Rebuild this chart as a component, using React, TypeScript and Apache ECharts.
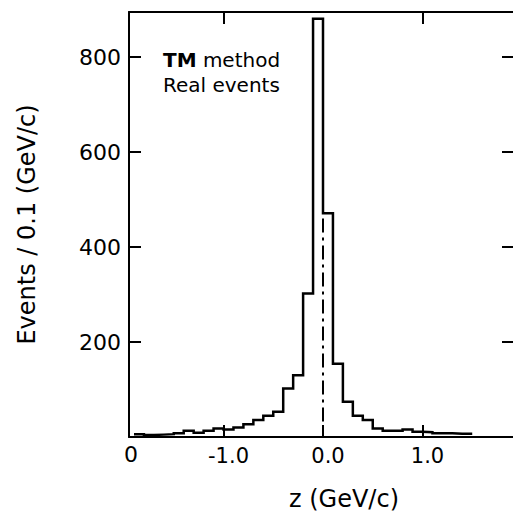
import React, { useEffect, useRef } from "react";
import * as echarts from "echarts";

// Histogram bins (left edge in GeV/c, bin width 0.1) and counts per bin
const binLeft = [
  -1.9, -1.8, -1.7, -1.6, -1.5, -1.4, -1.3, -1.2, -1.1, -1.0,
  -0.9, -0.8, -0.7, -0.6, -0.5, -0.4, -0.3, -0.2, -0.1, 0.0,
  0.1, 0.2, 0.3, 0.4, 0.5, 0.6, 0.7, 0.8, 0.9, 1.0,
  1.1, 1.2, 1.3, 1.4,
];
const counts = [
  6, 4, 5, 6, 8, 13, 9, 13, 18, 16,
  20, 27, 36, 45, 53, 102, 130, 302, 881, 471,
  154, 74, 45, 36, 18, 13, 13, 16, 11, 10,
  8, 8, 7, 7,
];
const binWidth = 0.1;

const xTicks = [-1.0, 0.0, 1.0];
const xTopTicks = [-1.0, 1.0];
const yTicks = [200, 400, 600, 800];
const centerLine = [
  [0, 460],
  [0, 0],
];
const insetLines = ["{b|TM} method", "Real events"];

const FONT = "DejaVu Sans";

export default function App() {
  const ref = useRef<HTMLDivElement>(null);

  useEffect(() => {
    document.body.style.margin = "0";
    if (!ref.current) return;
    const chart = echarts.init(ref.current, null, { renderer: "svg" });

    const stepData: number[][] = binLeft.map((x, i) => [x, counts[i]]);
    stepData.push([
      +(binLeft[binLeft.length - 1] + binWidth).toFixed(2),
      counts[counts.length - 1],
    ]);

    const axisLine = { show: true, onZero: false, lineStyle: { color: "#000", width: 2 } };
    const tickStyle = { color: "#000", width: 2 };

    chart.setOption({
      animation: false,
      backgroundColor: "#fff",
      textStyle: { fontFamily: FONT, color: "#000" },
      grid: {
        left: 129,
        width: 388,
        top: 12,
        height: 425,
        containLabel: false,
        outerBoundsMode: "none",
      },
      xAxis: [
        {
          type: "value",
          position: "bottom",
          min: -1.95,
          max: 1.95,
          axisLine,
          splitLine: { show: false },
          axisTick: {
            show: true,
            inside: true,
            length: 12,
            lineStyle: tickStyle,
            customValues: xTicks,
          },
          axisLabel: {
            show: true,
            customValues: xTicks,
            formatter: (v: number) => v.toFixed(1),
            fontSize: 21,
            fontFamily: FONT,
            color: "#000",
            margin: 8,
            padding: [0, 0, 0, 10],
          },
          name: "z (GeV/c)",
          nameLocation: "middle",
          nameGap: 50,
          nameTextStyle: {
            fontSize: 24,
            fontFamily: FONT,
            color: "#000",
            padding: [0, 0, 0, 42],
          },
        },
        {
          type: "value",
          position: "top",
          min: -1.95,
          max: 1.95,
          axisLine,
          splitLine: { show: false },
          axisTick: {
            show: true,
            inside: true,
            length: 12,
            lineStyle: tickStyle,
            customValues: xTopTicks,
          },
          axisLabel: { show: false },
        },
      ],
      yAxis: [
        {
          type: "value",
          position: "left",
          min: 0,
          max: 895,
          axisLine,
          splitLine: { show: false },
          axisTick: {
            show: true,
            inside: true,
            length: 12,
            lineStyle: tickStyle,
            customValues: yTicks,
          },
          axisLabel: {
            show: true,
            customValues: yTicks,
            fontSize: 22,
            fontFamily: FONT,
            color: "#000",
            margin: 8,
          },
          name: "Events / 0.1 (GeV/c)",
          nameLocation: "middle",
          nameGap: 90,
          nameTextStyle: { fontSize: 24, fontFamily: FONT, color: "#000" },
        },
        {
          type: "value",
          position: "right",
          min: 0,
          max: 895,
          axisLine,
          splitLine: { show: false },
          axisTick: {
            show: true,
            inside: true,
            length: 15,
            lineStyle: tickStyle,
            customValues: yTicks,
          },
          axisLabel: { show: false },
        },
      ],
      series: [
        {
          type: "line",
          xAxisIndex: 0,
          yAxisIndex: 0,
          data: stepData,
          step: "end",
          symbol: "none",
          lineStyle: { color: "#000", width: 2.5, join: "miter" },
          z: 3,
        },
        {
          type: "line",
          xAxisIndex: 0,
          yAxisIndex: 0,
          data: centerLine,
          symbol: "none",
          lineStyle: { color: "#000", width: 2, type: [14, 5, 3, 5] },
          z: 2,
        },
      ],
      graphic: [
        {
          type: "text",
          x: 131,
          y: 454,
          style: {
            text: "0",
            font: `22px "${FONT}"`,
            fill: "#000",
            textAlign: "center",
            textVerticalAlign: "middle",
          },
        },
        {
          type: "text",
          x: 163,
          y: 47,
          style: {
            text: insetLines.join("\n"),
            fontFamily: FONT,
            fontSize: 20,
            lineHeight: 25,
            fill: "#000",
            textAlign: "left",
            textVerticalAlign: "top",
            rich: {
              b: { fontFamily: FONT, fontSize: 20, fontWeight: "bold", lineHeight: 25 },
            },
          },
        },
      ],
    });

    return () => chart.dispose();
  }, []);

  return (
    <div
      ref={ref}
      style={{
        position: "absolute",
        left: 0,
        top: 0,
        width: 513,
        height: 515,
        overflow: "hidden",
      }}
    />
  );
}
